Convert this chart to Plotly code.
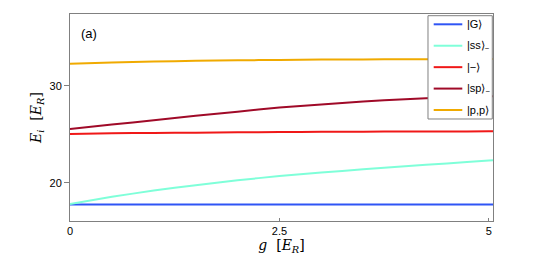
import plotly.graph_objects as go

g = [0, 0.5, 1, 1.5, 2, 2.5, 3, 3.5, 4, 4.5, 5, 5.05]
E_G = [17.76] * 12
E_ss = [17.8, 18.55, 19.2, 19.75, 20.25, 20.7, 21.05, 21.4, 21.7, 22.0, 22.3, 22.33]
E_minus = [25.03, 25.1, 25.14, 25.17, 25.2, 25.23, 25.25, 25.27, 25.28, 25.29, 25.3, 25.3]
E_sp = [25.54, 26.0, 26.45, 26.9, 27.33, 27.75, 28.08, 28.37, 28.62, 28.8, 28.92, 28.93]
E_pp = [32.27, 32.4, 32.5, 32.57, 32.62, 32.67, 32.7, 32.72, 32.73, 32.74, 32.75, 32.75]

names = ["|G⟩", "|ss⟩<sub>−</sub>", "|−⟩", "|sp⟩<sub>−</sub>", "|p,p⟩"]
colors = ["#2f55f5", "#7fffd9", "#f01818", "#a00a28", "#f0aa00"]
series = [E_G, E_ss, E_minus, E_sp, E_pp]

fig = go.Figure()
for nm, c, ys in zip(names, colors, series):
    fig.add_trace(go.Scatter(x=g, y=ys, mode="lines", name=nm, showlegend=False,
                             line=dict(color=c, width=2, shape="spline", smoothing=0.6)))

axcol = "#808080"

# legend box drawn in paper coordinates
leg_x0, leg_x1 = 0.8463, 0.9983
leg_y0, leg_y1 = 0.4928, 0.9918
line_x0, line_x1, text_x = 0.8598, 0.9274, 0.9338
item_y0, item_dy = 0.9502, 0.1035
shapes = [dict(type="rect", xref="paper", yref="paper", x0=leg_x0, x1=leg_x1,
               y0=leg_y0, y1=leg_y1, line=dict(color=axcol, width=1),
               fillcolor="white", layer="above")]
annotations = []
for i, (nm, c) in enumerate(zip(names, colors)):
    yy = item_y0 - i * item_dy
    shapes.append(dict(type="line", xref="paper", yref="paper", x0=line_x0, x1=line_x1,
                       y0=yy, y1=yy, line=dict(color=c, width=2), layer="above"))
    annotations.append(dict(text=nm, x=text_x, y=yy, xref="paper", yref="paper",
                            xanchor="left", yanchor="middle", showarrow=False,
                            font=dict(size=11)))
annotations.append(dict(text="(a)", x=0.022, y=0.95, xref="paper", yref="paper",
                        xanchor="left", yanchor="top", showarrow=False,
                        font=dict(size=13)))

fig.update_layout(
    width=537, height=247,
    margin=dict(l=62, r=52, t=6, b=34),
    paper_bgcolor="white", plot_bgcolor="white",
    font=dict(family="Liberation Sans, Arial", size=11, color="black"),
    showlegend=False,
    xaxis=dict(range=[0, 5.05], tickvals=[0, 2.5, 5], ticktext=["0", "2.5", "5"],
               ticks="inside", ticklen=3, tickcolor=axcol, showgrid=False,
               zeroline=False, showline=True, linecolor=axcol, mirror=True,
               title=dict(text="<i>g</i>  [<i>E<sub>R</sub></i>]",
                          font=dict(family="DejaVu Serif", size=14), standoff=2)),
    yaxis=dict(range=[16.06, 37.4], tickvals=[20, 30], ticktext=["20", "30"],
               ticks="outside", ticklen=5, tickcolor=axcol, showgrid=False,
               zeroline=False, showline=True, linecolor=axcol, mirror=True,
               title=dict(text="<i>E<sub>i</sub></i>  [<i>E<sub>R</sub></i>]",
                          font=dict(family="DejaVu Serif", size=14), standoff=4)),
    shapes=shapes,
    annotations=annotations,
)

fig.write_html("out.html")
